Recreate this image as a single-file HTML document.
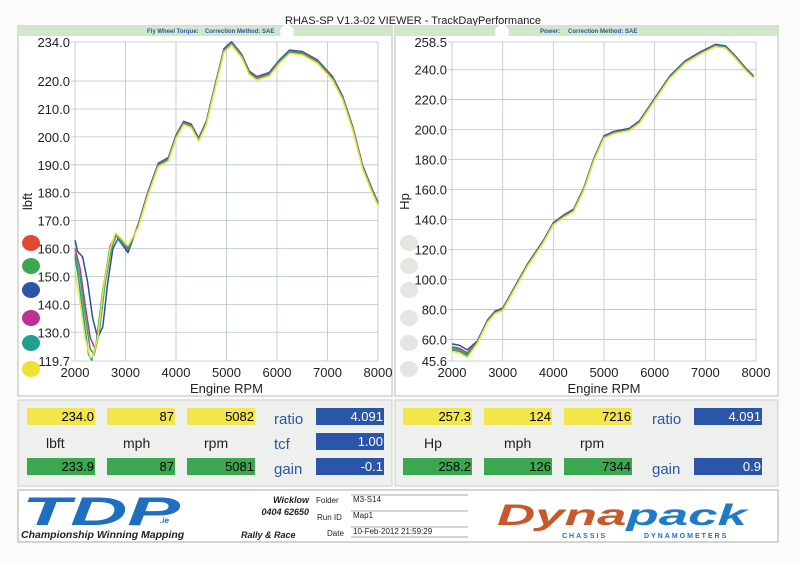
<!DOCTYPE html>
<html><head><meta charset="utf-8"><style>
body{margin:0;background:#fff;width:800px;height:566px;overflow:hidden;font-family:"Liberation Sans",sans-serif}
svg text{font-family:"Liberation Sans",sans-serif}
</style></head><body>
<svg id="s" width="800" height="566" xmlns="http://www.w3.org/2000/svg">
<rect x="0" y="0" width="800" height="566" fill="#fbfbfa"/>
<text x="285" y="24" font-size="11" fill="#222">RHAS-SP V1.3-02 VIEWER - TrackDayPerformance</text>
<rect x="18" y="26" width="374" height="370" fill="#fff" stroke="#bbb"/>
<rect x="395" y="26" width="383" height="370" fill="#fff" stroke="#bbb"/>
<rect x="19" y="27" width="372" height="9" fill="#cfe8c8"/>
<rect x="396" y="27" width="381" height="9" fill="#cfe8c8"/>
<text x="147" y="33" font-size="6" fill="#2a5aa0" font-weight="bold">Fly Wheel Torque:</text>
<text x="205" y="33" font-size="6" fill="#2a5aa0" font-weight="bold">Correction Method: SAE</text>
<text x="540" y="33" font-size="6" fill="#2a5aa0" font-weight="bold">Power:</text>
<text x="568" y="33" font-size="6" fill="#2a5aa0" font-weight="bold">Correction Method: SAE</text>
<circle cx="287" cy="32" r="7" fill="#fff"/><circle cx="502" cy="32" r="7" fill="#fff"/>
<g id="g"></g>
<rect x="18" y="400" width="374" height="86" fill="#eef0ee" stroke="#ccc"/>
<rect x="395" y="400" width="383" height="86" fill="#eef0ee" stroke="#ccc"/>
<g font-size="13" text-anchor="end">
<rect x="27" y="408" width="68" height="17" fill="#f2e64a"/><text x="94" y="421">234.0</text>
<rect x="107" y="408" width="68" height="17" fill="#f2e64a"/><text x="174" y="421">87</text>
<rect x="187" y="408" width="68" height="17" fill="#f2e64a"/><text x="254" y="421">5082</text>
<rect x="27" y="458" width="68" height="17" fill="#3aa84e"/><text x="94" y="471">233.9</text>
<rect x="107" y="458" width="68" height="17" fill="#3aa84e"/><text x="174" y="471">87</text>
<rect x="187" y="458" width="68" height="17" fill="#3aa84e"/><text x="254" y="471">5081</text>
<rect x="316" y="408" width="68" height="17" fill="#2a55a8"/><text x="383" y="421" fill="#fff">4.091</text>
<rect x="316" y="433" width="68" height="17" fill="#2a55a8"/><text x="383" y="446" fill="#fff">1.00</text>
<rect x="316" y="458" width="68" height="17" fill="#2a55a8"/><text x="383" y="471" fill="#fff">-0.1</text>
<rect x="403" y="408" width="69" height="17" fill="#f2e64a"/><text x="471" y="421">257.3</text>
<rect x="484" y="408" width="68" height="17" fill="#f2e64a"/><text x="551" y="421">124</text>
<rect x="564" y="408" width="68" height="17" fill="#f2e64a"/><text x="631" y="421">7216</text>
<rect x="403" y="458" width="69" height="17" fill="#3aa84e"/><text x="471" y="471">258.2</text>
<rect x="484" y="458" width="68" height="17" fill="#3aa84e"/><text x="551" y="471">126</text>
<rect x="564" y="458" width="68" height="17" fill="#3aa84e"/><text x="631" y="471">7344</text>
<rect x="694" y="408" width="68" height="17" fill="#2a55a8"/><text x="761" y="421" fill="#fff">4.091</text>
<rect x="694" y="458" width="68" height="17" fill="#2a55a8"/><text x="761" y="471" fill="#fff">0.9</text>
</g>
<g font-size="14" fill="#222">
<text x="46" y="448">lbft</text><text x="123" y="448">mph</text><text x="204" y="448">rpm</text>
<text x="424" y="448">Hp</text><text x="504" y="448">mph</text><text x="580" y="448">rpm</text>
</g>
<g font-size="15" fill="#2a55a8">
<text x="274" y="424">ratio</text><text x="274" y="449">tcf</text><text x="274" y="474">gain</text>
<text x="652" y="424">ratio</text><text x="652" y="474">gain</text>
</g>
<rect x="18" y="490" width="760" height="52" fill="#fff" stroke="#aaa"/>
<text x="22" y="525" font-size="40" font-weight="bold" font-style="italic" fill="#1f6fc0" textLength="158" lengthAdjust="spacingAndGlyphs">TDP</text>
<text x="160" y="523" font-size="8" font-weight="bold" font-style="italic" fill="#1f6fc0">.ie</text>
<text x="21" y="538" font-size="10.5" font-weight="bold" font-style="italic" fill="#222">Championship Winning Mapping</text>
<text x="241" y="538" font-size="9" font-weight="bold" font-style="italic" fill="#222">Rally &amp; Race</text>
<text x="309" y="503" font-size="9" font-weight="bold" font-style="italic" fill="#222" text-anchor="end">Wicklow</text>
<text x="309" y="515" font-size="9" font-weight="bold" font-style="italic" fill="#222" text-anchor="end">0404 62650</text>
<g font-size="8" fill="#222"><text x="316" y="503">Folder</text><text x="317" y="520">Run ID</text><text x="327" y="536">Date</text>
<text x="353" y="502">M3-S14</text><text x="353" y="518">Map1</text><text x="353" y="534">10-Feb-2012  21:59:29</text></g>
<g stroke="#888" stroke-width="0.7"><line x1="351" y1="495" x2="468" y2="495"/><line x1="351" y1="511" x2="468" y2="511"/><line x1="351" y1="527" x2="468" y2="527"/><line x1="351" y1="537" x2="468" y2="537"/></g>
<text x="497" y="525" font-size="30" font-weight="bold" font-style="italic" fill="#c8582a" textLength="250" lengthAdjust="spacingAndGlyphs">Dyna<tspan fill="#1f7ac8">pack</tspan></text>
<text x="562" y="538" font-size="7" font-weight="bold" fill="#1f6fc0" letter-spacing="2">CHASSIS</text>
<text x="644" y="538" font-size="7" font-weight="bold" fill="#1f6fc0" letter-spacing="2">DYNAMOMETERS</text>
</svg>
<script>
const g=document.getElementById('g');let h='';
function ax(x0,x1,y0,y1,vmax,vmin,ticks,lab){
 const X=r=>x0+(r-2000)/6000*(x1-x0),Y=v=>y0+(vmax-v)/(vmax-vmin)*(y1-y0);
 for(let r=2000;r<=8000;r+=1000){h+=`<line x1="${X(r)}" y1="${y0}" x2="${X(r)}" y2="${y1}" stroke="#b8c4cc" stroke-width="0.8"/><text x="${X(r)}" y="${y1+16}" font-size="13" text-anchor="middle" fill="#222">${r}</text>`;}
 for(const t of ticks){h+=`<line x1="${x0-4}" y1="${Y(t)}" x2="${x1}" y2="${Y(t)}" stroke="#b8c4cc" stroke-width="0.8"/><text x="${x0-5}" y="${Y(t)+5}" font-size="13" text-anchor="end" fill="#222">${t.toFixed(1)}</text>`;}
 h+=`<text x="${(x0+x1)/2}" y="${y1+32}" font-size="13" text-anchor="middle" fill="#222">Engine RPM</text>`;
 h+=`<text transform="translate(${x0-43},${(y0+y1)/2}) rotate(-90)" font-size="13" text-anchor="middle" fill="#222">${lab}</text>`;
 return [X,Y];
}
const cols=['#2a4fa0','#c03090','#20a090','#3aa84e','#f0e030'];
function path(X,Y,pts,c){return `<path d="${pts.map((p,j)=>(j?'L':'M')+X(p[0]).toFixed(1)+','+Y(p[1]).toFixed(1)).join('')}" fill="none" stroke="${c}" stroke-width="1.5" stroke-linejoin="round"/>`;}
let [X,Y]=ax(75,378,42,361,234,119.7,[234,220,210,200,190,180,170,160,150,140,130,119.7],'lbft');
const hi=[[3050,160],[3250,168],[3450,180],[3650,190],[3850,192],[4000,200],[4150,205],[4300,204],[4450,199],[4600,205],[4800,220],[4950,231],[5100,233.5],[5300,229],[5450,223],[5600,221],[5850,222.5],[6050,227],[6250,230.5],[6500,230],[6800,227],[7100,221],[7300,214],[7500,203],[7700,189],[7900,180],[8000,176]];
const lows=[
 [[2000,163],[2050,159],[2150,157],[2250,148],[2350,135],[2450,128],[2550,132],[2650,148],[2750,160],[2850,163.5],[2950,161],[3050,158.5]],
 [[2000,160],[2100,153],[2200,140],[2300,128],[2400,124],[2500,134],[2600,150],[2700,161],[2820,165],[2950,162],[3050,159.5]],
 [[2000,157],[2080,148],[2180,134],[2270,122],[2330,120],[2420,126],[2550,145],[2680,159],[2800,165],[2950,161.5],[3050,160.5]],
 [[2000,158],[2100,150],[2200,136],[2300,124],[2380,122],[2480,130],[2600,148],[2720,160],[2820,165],[2950,162],[3050,160]],
 [[2000,152],[2100,141],[2200,128],[2300,121],[2350,121],[2450,128],[2580,148],[2700,160],[2800,165.5],[2950,163],[3050,161]]];
const offs=[[0,0.6],[0,0.3],[0,-0.3],[0,0],[0,-0.6]];
[0,1,3,2,4].forEach(i=>{const p=lows[i].concat(hi.slice(1).map(q=>[q[0]+offs[i][0]*50,q[1]+offs[i][1]]));h+=path(X,Y,p,cols[i]);});
[X,Y]=ax(452,756,42,361,258.5,45.6,[258.5,240,220,200,180,160,140,120,100,80,60,45.6],'Hp');
const hp=[[2000,54],[2150,53],[2300,50],[2500,58],[2700,72],[2850,78],[3000,80],[3200,92],[3500,110],[3800,125],[4000,137],[4200,142],[4400,146],[4600,160],[4800,180],[5000,195],[5200,198],[5500,200],[5700,205],[6000,220],[6300,235],[6600,245],[6900,251],[7200,256],[7400,255],[7600,248],[7800,240],[7950,235]];
const ho=[3,1,-1,0,-2];
[0,1,3,2,4].forEach(i=>{h+=path(X,Y,hp.map(q=>[q[0],q[1]+(q[0]<2400?ho[i]:ho[i]*0.3)]),cols[i]);});
const dc=['#e04a30','#3aa84e','#2a55a8','#c03090','#20a090','#f0e030'],dy=[243,266,290,318,343,369];
dc.forEach((c,i)=>{h+=`<ellipse cx="31" cy="${dy[i]}" rx="9" ry="8" fill="${c}"/><ellipse cx="409" cy="${dy[i]}" rx="9" ry="8" fill="#e4e6e2"/>`;});
g.innerHTML=h;
</script>
</body></html>
